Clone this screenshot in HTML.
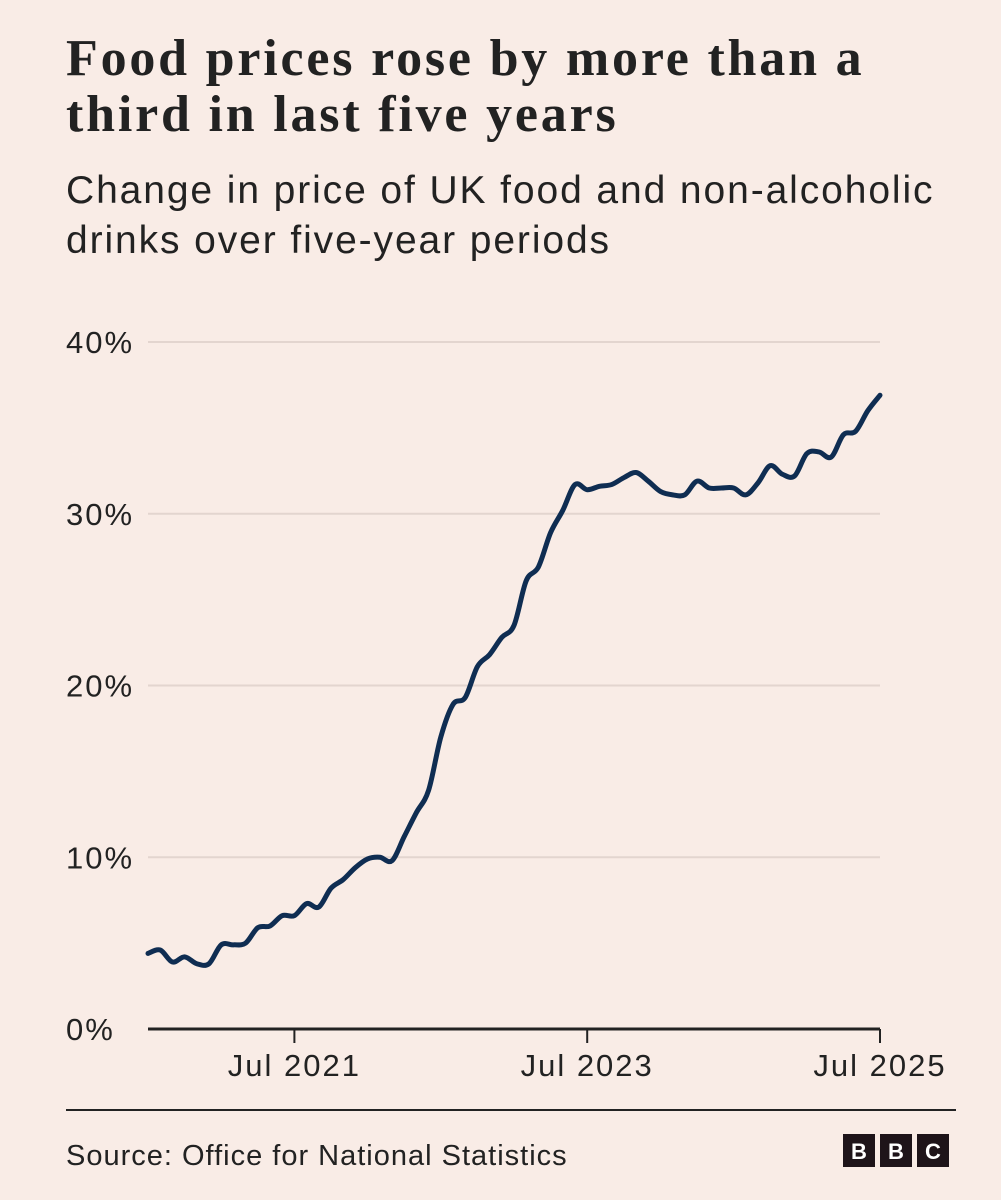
<!DOCTYPE html>
<html><head><meta charset="utf-8"><style>
body{margin:0;background:#f9ece6;}
#wrap{position:relative;width:1001px;height:1200px;background:#f9ece6;overflow:hidden;font-family:"Liberation Sans",sans-serif;color:#222;}
h1{position:absolute;left:66px;top:31px;margin:0;font-family:"Liberation Serif",serif;font-weight:bold;font-size:52px;line-height:56px;letter-spacing:2.8px;color:#222;white-space:nowrap;}
h2{position:absolute;left:66px;top:166px;margin:0;font-weight:normal;font-size:39px;line-height:50px;letter-spacing:1.9px;color:#222;white-space:nowrap;}
</style></head><body>
<div id="wrap">
<h1>Food prices rose by more than a<br>third in last five years</h1>
<h2>Change in price of UK food and non-alcoholic<br>drinks over five-year periods</h2>
<svg id="chart" width="1001" height="1200" style="position:absolute;left:0;top:0"></svg>
</div>
<script>
const values=[4.4,4.6,3.9,4.2,3.8,3.8,4.9,4.9,5.0,5.9,6.0,6.6,6.6,7.3,7.1,8.2,8.7,9.4,9.9,10.0,9.8,11.2,12.6,13.9,
17.0,18.9,19.3,21.1,21.8,22.8,23.5,26.1,26.9,28.9,30.2,31.7,31.4,31.6,31.7,32.1,32.4,31.9,31.3,31.1,31.1,31.9,31.5,31.5,31.5,31.1,31.8,32.8,32.3,32.2,33.5,33.6,33.3,34.6,34.8,36.0,36.9];
const yTicks=[0,10,20,30,40];
const yTickLabels=["0%","10%","20%","30%","40%"];
const xTickIdx=[12,36,60];
const xTickLabels=["Jul 2021","Jul 2023","Jul 2025"];
const NS="http://www.w3.org/2000/svg";
const svg=document.getElementById('chart');
const x0=148,x1=880,y0=1029,y40=342;
const xs=i=>x0+(x1-x0)*i/(values.length-1);
const ys=v=>y0+(y40-y0)*v/40;
function mk(t,a){const e=document.createElementNS(NS,t);for(const k in a)e.setAttribute(k,a[k]);svg.appendChild(e);return e;}
const FONT='Liberation Sans, sans-serif';
yTicks.forEach((v,i)=>{
  if(v>0){const g=mk('line',{x1:x0,x2:x1,y1:ys(v),y2:ys(v),stroke:'#e3d5cf','stroke-width':2});
  
  }
  const t=mk('text',{x:66,y:ys(v)+11,'font-size':31,'letter-spacing':2,fill:'#222','font-family':FONT});
  t.textContent=yTickLabels[i];
  
  
});
const ax=mk('line',{x1:x0,x2:x1,y1:y0,y2:y0,stroke:'#222','stroke-width':3});


xTickIdx.forEach((idx,i)=>{
  const tk=mk('line',{x1:xs(idx),x2:xs(idx),y1:y0,y2:y0+14,stroke:'#222','stroke-width':2});
  
  
  const t=mk('text',{x:xs(idx),y:y0+47,'font-size':31,'letter-spacing':2,fill:'#222','text-anchor':'middle','font-family':FONT});
  t.textContent=xTickLabels[i];
  
  
});
const pts=values.map((v,i)=>[xs(i),ys(v)]);
let d='M'+pts[0][0]+','+pts[0][1];
for(let i=0;i<pts.length-1;i++){
  const p0=pts[Math.max(0,i-1)],p1=pts[i],p2=pts[i+1],p3=pts[Math.min(pts.length-1,i+2)];
  const c1=[p1[0]+(p2[0]-p0[0])/6,p1[1]+(p2[1]-p0[1])/6],c2=[p2[0]-(p3[0]-p1[0])/6,p2[1]-(p3[1]-p1[1])/6];
  d+=' C'+c1+' '+c2+' '+p2;
}
const ln=mk('path',{d:d,fill:'none',stroke:'#0f2d52','stroke-width':5,'stroke-linejoin':'round','stroke-linecap':'round'});


const fl=mk('line',{x1:66,x2:956,y1:1110,y2:1110,stroke:'#222','stroke-width':2});


const src=mk('text',{x:66,y:1165,'font-size':29,'letter-spacing':1,fill:'#222','font-family':FONT});
src.textContent='Source: Office for National Statistics';


['B','B','C'].forEach((c,i)=>{
  const r=mk('rect',{x:843+i*37,y:1134,width:32,height:33,fill:'#1e1419'});
  
  
  const t=mk('text',{x:859+i*37,y:1159,'font-size':22,'font-weight':'bold',fill:'#fff','text-anchor':'middle','font-family':FONT});
  t.textContent=c;
  
  
});
</script>
</body></html>
